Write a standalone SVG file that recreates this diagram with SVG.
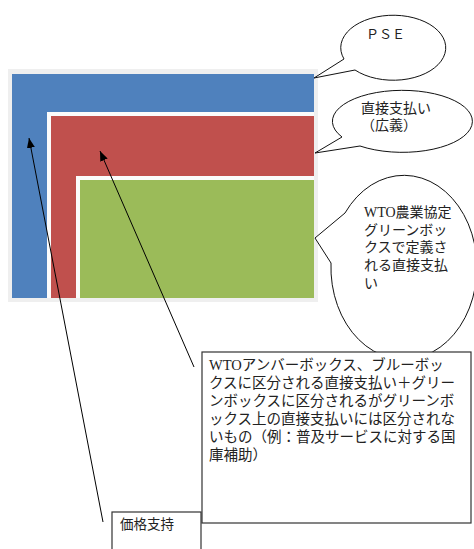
<svg xmlns="http://www.w3.org/2000/svg" width="474" height="549" viewBox="0 0 474 549">
<style>
.t{font-family:"Liberation Serif","Noto Sans CJK JP",serif;fill:#222;}
.call{fill:#fff;stroke:#111;stroke-width:1;}
.box{fill:#fff;stroke:#333;stroke-width:1.2;}
.conn{stroke:#000;stroke-width:1;fill:none;}
</style>
<defs>
<marker id="ah" markerUnits="userSpaceOnUse" markerWidth="12" markerHeight="10" refX="10" refY="4" orient="auto">
<path d="M0,0 L10,4 L0,8 Z" fill="#000"/>
</marker>
</defs>
<rect width="474" height="549" fill="#fff"/>
<g id="layers">
<rect x="8" y="69" width="310" height="233" fill="#efefef"/>
<rect x="12" y="74" width="302" height="224" fill="#4f81bd"/>
<rect x="47" y="112" width="267" height="186" fill="#fbfbfb"/>
<rect x="51" y="116" width="263" height="182" fill="#c0504d"/>
<rect x="76" y="176" width="238" height="122" fill="#fbfbfb"/>
<rect x="80" y="180" width="234" height="118" fill="#9bbb59"/>
</g>
<g id="callout-pse">
<path class="call" d="M344,59 L314,78 L355,70 A52.5,32.5 0 1 0 344,59 Z"/>
<text class="t" x="366" y="39" font-size="13">ＰＳＥ</text>
</g>
<g id="callout-direct">
<path class="call" d="M342,137 L315,153 L360,146 A70,31 0 1 0 342,137 Z"/>
<text class="t" x="361" y="113" font-size="14">直接支払い</text>
<text class="t" x="361" y="130" font-size="14">（広義）</text>
</g>
<g id="callout-green">
<path class="call" d="M345,213 L315,238 L331,263 A73,92 0 1 0 345,213 Z"/>
<text class="t" font-size="14"><tspan x="364" y="217">WTO農業協定</tspan><tspan x="364" y="235">グリーンボッ</tspan><tspan x="364" y="252">クスで定義さ</tspan><tspan x="364" y="270">れる直接支払</tspan><tspan x="364" y="288">い</tspan></text>
</g>
<g id="box-other">
<rect class="box" x="202" y="352" width="269" height="171"/>
<text class="t" font-size="14.5"><tspan x="209" y="370">WTOアンバーボックス、ブルーボッ</tspan><tspan x="209" y="388">クスに区分される直接支払い＋グリー</tspan><tspan x="209" y="406">ンボックスに区分されるがグリーンボ</tspan><tspan x="209" y="424">ックス上の直接支払いには区分されな</tspan><tspan x="209" y="442">いもの（例：普及サービスに対する国</tspan><tspan x="209" y="460">庫補助）</tspan></text>
</g>
<g id="box-price">
<rect class="box" x="112" y="512" width="89" height="45"/>
<text class="t" x="120" y="529" font-size="13.5">価格支持</text>
</g>
<g id="connectors">
<line class="conn" x1="103" y1="522" x2="29" y2="138" marker-end="url(#ah)"/>
<line class="conn" x1="194" y1="367" x2="100" y2="151" marker-end="url(#ah)"/>
</g>
</svg>
